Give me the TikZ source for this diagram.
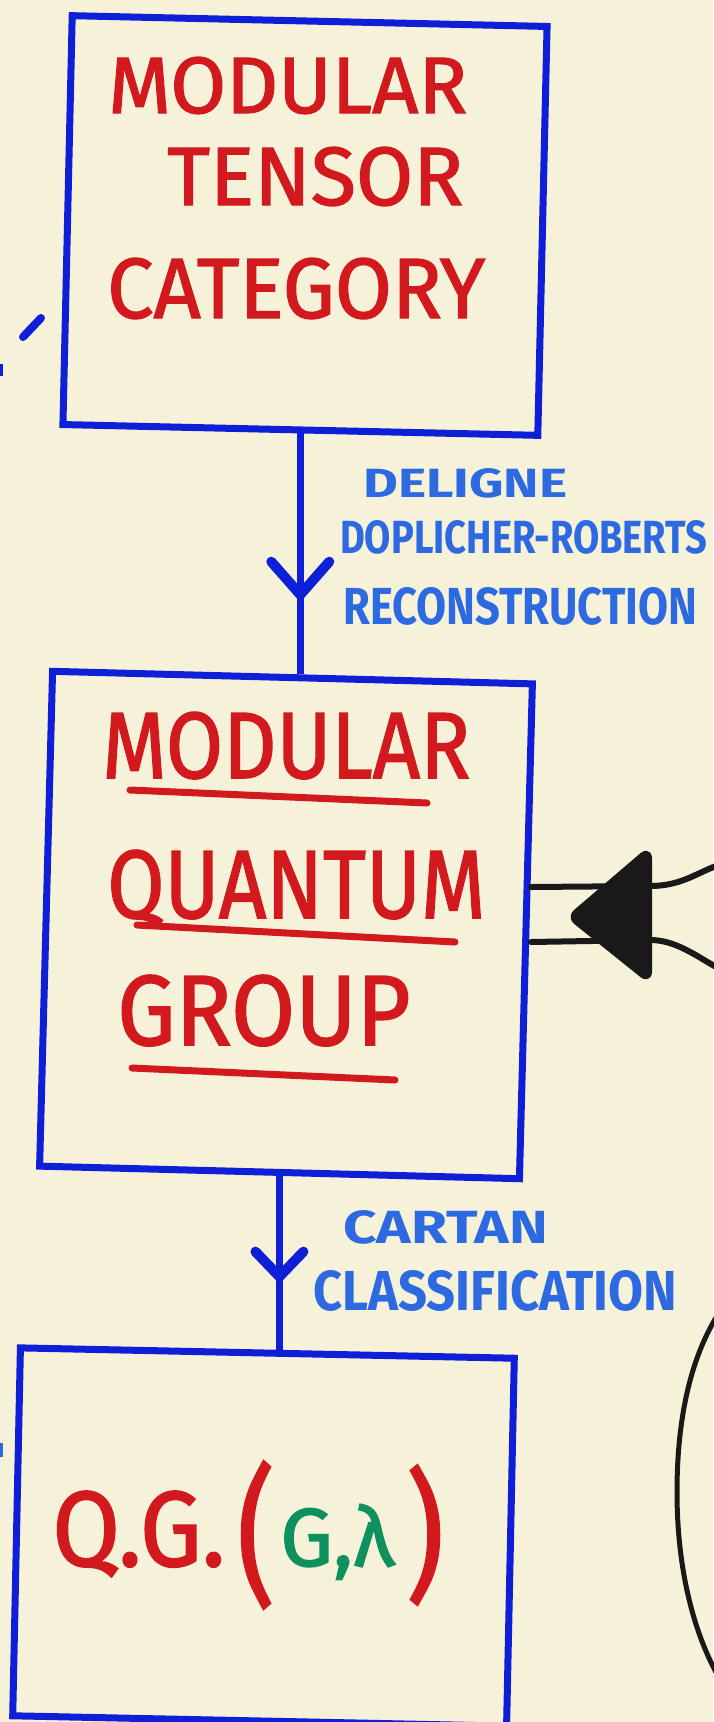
\documentclass[tikz,border=0pt]{standalone}
\usepackage{fontspec}
\setmainfont{Fira Sans}
\newfontfamily\markerfont[FakeBold=1.6]{Fira Sans}
\usetikzlibrary{decorations.markings,calc}
\definecolor{paper}{RGB}{246,242,218}
\definecolor{boxblue}{RGB}{15,30,215}
\definecolor{lblue}{RGB}{45,105,225}
\definecolor{mred}{RGB}{210,25,30}
\definecolor{mgreen}{RGB}{15,145,95}
\definecolor{ink}{RGB}{25,25,25}
\newcommand{\fitto}[3]{\resizebox{#1pt}{#2pt}{#3}}
\tikzset{
  boxst/.style={draw=boxblue, line width=7pt, inner sep=0pt, rectangle},
  redtxt/.style={text=mred, inner sep=0pt, anchor=base west, font=\markerfont},
  lbl/.style={text=lblue, inner sep=0pt, anchor=base west, font=\bfseries},
  uline/.style={draw=mred, line width=7pt, line cap=round},
  conn/.style={draw=boxblue, line width=7pt},
  vtip/.style={draw=boxblue, line width=10pt, line cap=round, line join=round},
  blk/.style={draw=ink, line width=6pt, line cap=round}
}
\begin{document}
\begin{tikzpicture}[x=1pt,y=-1pt]
\fill[paper] (0,0) rectangle (713,1722);
\useasboundingbox (0,0) rectangle (713,1722);

% boxes
\node[boxst, minimum width=475pt, minimum height=409pt, rotate=-1.3] (b1) at (305,225.5) {};
\node[boxst, minimum width=480pt, minimum height=495pt, rotate=-1.5] (b2) at (286,925) {};
\node[boxst, minimum width=494pt, minimum height=368pt, rotate=-1.2] (b3) at (263.5,1537) {};

% box 1 text
\node[redtxt] (t1a) at (108,113) {\fitto{359}{56}{MODULAR}};
\node[redtxt] (t1b) at (167,205) {\fitto{296}{58}{TENSOR}};
\node[redtxt] (t1c) at (107,318) {\fitto{378}{60}{CATEGORY}};

% box 2 text
\node[redtxt] (t2a) at (102,778) {\fitto{368}{66}{MODULAR}};
\node[redtxt] (t2b) at (107,918) {\fitto{378}{68}{QUANTUM}};
\node[redtxt] (t2c) at (117,1045) {\fitto{293}{70}{GROUP}};
\draw[uline] (130,790) -- (427,803);
\draw[uline] (137,925) -- (455,942);
\draw[uline] (132,1068) -- (395,1080);

% box 3 text
\node[redtxt] (t3a) at (52,1566) {\fitto{173}{75}{Q.G.}};
\node[text=mred, inner sep=0pt, font=\markerfont] (lp) at (256,1535) {\resizebox*{38pt}{148pt}{(}};
\node[text=mgreen, inner sep=0pt, anchor=base west, font=\markerfont] (gl) at (280,1566) {\fitto{114}{62}{G,λ}};
\node[text=mred, inner sep=0pt, font=\markerfont] (rp) at (425,1535) {\resizebox*{38pt}{140pt}{)}};

% connectors
\draw[conn, postaction={decorate}, decoration={markings,
  mark=at position 0.67 with {\draw[vtip] (-33,29) -- (0,0) -- (-33,-29);}}]
  (b1.south) -- (b1.south |- b2.north);
\draw[conn, postaction={decorate}, decoration={markings,
  mark=at position 0.58 with {\draw[vtip] (-25,24) -- (0,0) -- (-25,-24);}}]
  (b2.south) -- (b2.south |- b3.north);

% labels
\node[lbl] (d1) at (363,497) {\fitto{204}{29}{DELIGNE}};
\node[lbl] (d2) at (340,553) {\fitto{367}{33}{DOPLICHER-ROBERTS}};
\node[lbl] (d3) at (343,624) {\fitto{354}{37}{RECONSTRUCTION}};
\node[lbl] (c1) at (343,1243) {\fitto{205}{33}{CARTAN}};
\node[lbl] (c2) at (313,1310) {\fitto{364}{40}{CLASSIFICATION}};

% black structure on the right
\coordinate (e1) at (716,866);
\coordinate (e2) at (716,967);
\coordinate (s1) at (531,887);
\coordinate (s2) at (531,942);
\draw[blk] (s1) -- (650,886) .. controls (680,886) and (695,874) .. (e1);
\draw[blk] (s2) -- (650,940) .. controls (675,940) and (695,955) .. (e2);
\filldraw[draw=ink, fill=ink, line width=8pt, line join=round, rounded corners=6pt]
  (572,917) -- (648,852) -- (648,978) -- cycle;
\coordinate (a1) at (717,1316);
\coordinate (a2) at (717,1674);
\draw[draw=ink, line width=5pt] (a1) .. controls (690,1360) and (677,1420) .. (677,1492)
  .. controls (677,1570) and (694,1632) .. (a2);

% stray blue marks at the left edge
\draw[draw=boxblue, line width=8pt, line cap=round] (23,337) -- (41,318);
\fill[boxblue] (0,364) rectangle (2.5,376);
\fill[lblue] (0,1443) rectangle (2.5,1457);
\end{tikzpicture}
\end{document}
